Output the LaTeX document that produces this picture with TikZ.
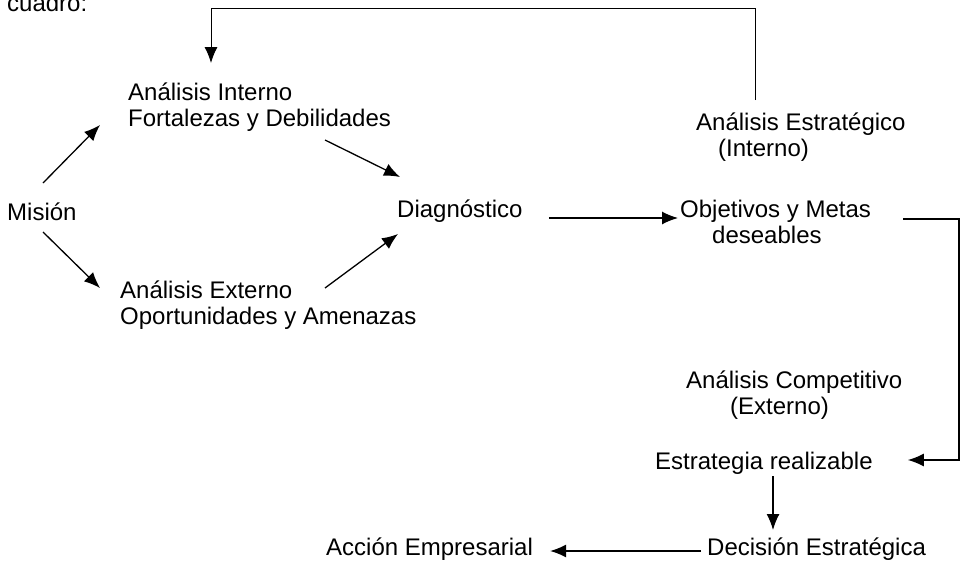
\documentclass[tikz,border=0pt]{standalone}
\usepackage{fontspec}
\setmainfont{Liberation Sans}
\usepackage{tikz}
\usetikzlibrary{calc, arrows.meta, positioning}

\tikzset{
    lbl/.style={anchor=base west, inner sep=0pt, align=left,
        font=\fontsize{24}{26}\selectfont},
    flecha/.style={->, line width=1.3pt}
}

\begin{document}
\begin{tikzpicture}[>={Latex[length=16pt,width=13pt]}, x=1pt, y=-1pt]
    \useasboundingbox (0,0) rectangle (961,562);

    % Textos (base = ultima linea)
    \node[lbl] (cuadro) at (7,12) {cuadro:};
    \node[lbl] (intI) at (128,126) {Análisis Interno\\Fortalezas y Debilidades};
    \node[lbl] (estI) at (696,156) {Análisis Estratégico\\\hspace*{22pt}(Interno)};
    \node[lbl] (mision) at (7,220) {Misión};
    \node[lbl] (diag) at (397,217) {Diagnóstico};
    \node[lbl] (objM) at (680,243) {Objetivos y Metas\\\hspace*{32pt}deseables};
    \node[lbl] (extA) at (120,324) {Análisis Externo\\Oportunidades y Amenazas};
    \node[lbl] (compA) at (686,414) {Análisis Competitivo\\\hspace*{44pt}(Externo)};
    \node[lbl] (estR) at (655,469) {Estrategia realizable};
    \node[lbl] (decE) at (707,555) {Decisión Estratégica};
    \node[lbl] (accE) at (326,555) {Acción Empresarial};

    % Flechas de la misión al diagnóstico
    \draw[flecha] ($(mision.base west)+(36,-37)$) -- ($(intI.base west)+(-28,-1)$);
    \draw[flecha] ($(mision.base west)+(36,12)$) -- ($(extA.base west)+(-20,-36)$);
    \draw[flecha] ($(intI.base west)+(197,14)$) -- ($(diag.base west)+(3,-40)$);
    \draw[flecha] ($(extA.base west)+(205,-36)$) -- ($(diag.base west)+(1,17)$);
    \draw[flecha] ($(diag.base east)+(26,1)$) -- ($(objM.base west)+(-2,-25)$);

    % Retroalimentacion superior
    \draw[flecha, line width=1pt] ($(estI.base west)+(59,-56)$)
        |- ($(intI.base west)+(83,-118)$) -- ($(intI.base west)+(83,-63)$);

    % Lado derecho y parte baja
    \draw[flecha] ($(objM.base west)+(223,-24)$) -| ($(estR.base east)+(86,-9)$)
        -- ($(estR.base east)+(35,-9)$);
    \draw[flecha] ($(estR.base west)+(118,7)$) -- ($(decE.base west)+(66,-25)$);
    \draw[flecha] ($(decE.base west)+(-6,-4)$) -- ($(accE.base east)+(17,-4)$);

\end{tikzpicture}
\end{document}
